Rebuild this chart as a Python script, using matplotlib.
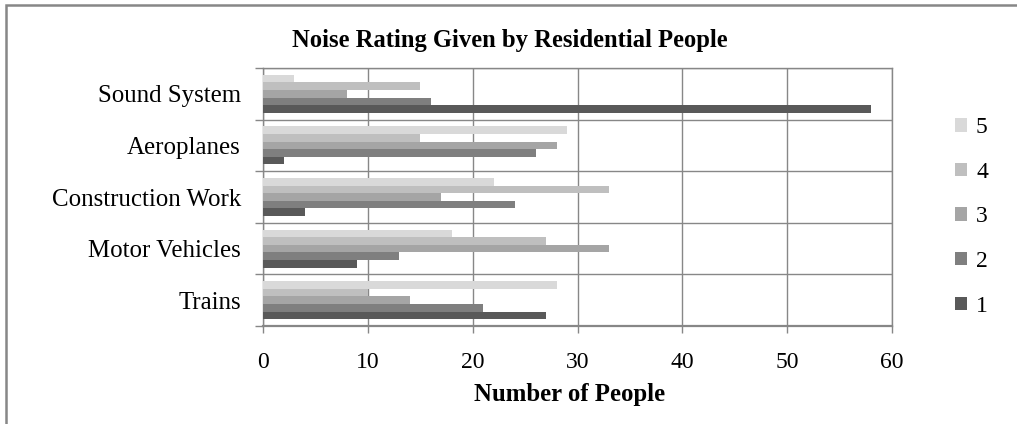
import matplotlib
matplotlib.use("Agg")
import matplotlib.pyplot as plt
import numpy as np
from matplotlib.patches import Rectangle, Patch

plt.rcParams['font.family'] = ['Liberation Serif', 'DejaVu Serif']

# Noise sources, listed bottom to top as drawn on the y axis
sources = ["Trains", "Motor Vehicles", "Construction Work", "Aeroplanes", "Sound System"]
ratings = ["1", "2", "3", "4", "5"]

# Number of people giving each rating, per source (same order as `sources`)
rating_1 = [27, 9, 4, 2, 58]
rating_2 = [21, 13, 24, 26, 16]
rating_3 = [14, 33, 17, 28, 8]
rating_4 = [10, 27, 33, 15, 15]
rating_5 = [28, 18, 22, 29, 3]

series = [rating_1, rating_2, rating_3, rating_4, rating_5]
colors = ["#595959", "#7f7f7f", "#a5a5a5", "#bfbfbf", "#d9d9d9"]
grid_col = "#878787"

fig = plt.figure(figsize=(10.17, 4.24), dpi=100)
ax = fig.add_axes([263 / 1017, 1 - 326 / 424, (892 - 263) / 1017, (326 - 68) / 424])

y = np.arange(len(sources))
h = 0.148
for k, (vals, col) in enumerate(zip(series, colors)):
    ax.barh(y + (k - 2) * h, vals, height=h, color=col, zorder=3, label=ratings[k])

ax.set_xlim(0, 60)
ax.set_ylim(-0.5, len(sources) - 0.5)
ax.set_xticks(np.arange(0, 61, 10))
ax.set_yticks(y)
ax.set_yticklabels(sources, fontsize=17.9)
ax.set_yticks(np.arange(-0.5, len(sources), 1.0), minor=True)

ax.tick_params(axis='y', which='major', length=0, pad=16)
ax.tick_params(axis='y', which='minor', length=6, width=1.0, color=grid_col, direction='out')
ax.tick_params(axis='x', which='major', length=5, width=1.0, color=grid_col,
               direction='out', pad=14, labelsize=17)

ax.grid(True, axis='x', which='major', color=grid_col, linewidth=1.0, zorder=0)
ax.grid(True, axis='y', which='minor', color=grid_col, linewidth=1.0, zorder=0)
ax.grid(False, axis='y', which='major')
for s in ax.spines.values():
    s.set_color(grid_col)
    s.set_linewidth(1.0)
ax.spines['bottom'].set_linewidth(1.6)

ax.set_xlabel("Number of People", fontsize=17.8, fontweight='bold')
ax.xaxis.set_label_coords((570 - 263) / 629, -(395 - 326) / 258)
ax.xaxis.label.set_va('center')

fig.text(510 / 1017, 1 - 40 / 424, "Noise Rating Given by Residential People",
         fontsize=17.7, fontweight='bold', ha='center', va='center')

# Legend: rating 5 on top, 1 at the bottom
handles = [Patch(facecolor=c, edgecolor='none') for c in colors][::-1]
labels = ratings[::-1]
leg = fig.legend(handles, labels, loc='center left',
                 bbox_to_anchor=(943 / 1017, 1 - 217 / 424),
                 frameon=False, fontsize=17, handlelength=0.5, handleheight=0.5,
                 handletextpad=0.4, labelspacing=1.0, borderpad=0)

# Outer chart frame
fig.patches.append(Rectangle((6 / 1017, -0.2), 1.2, 1.2 - 5 / 424,
                             transform=fig.transFigure, fill=False,
                             edgecolor=grid_col, linewidth=1.8))

fig.savefig("out.png", dpi=100)
